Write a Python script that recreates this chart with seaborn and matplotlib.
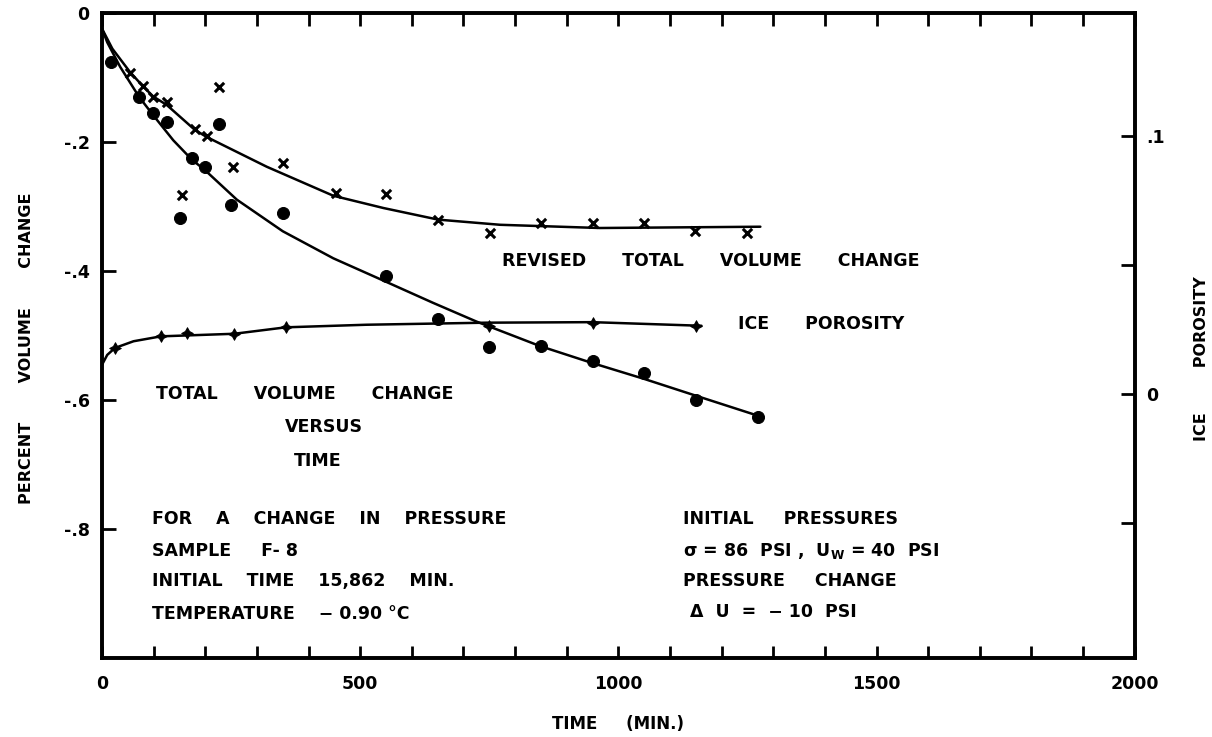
import numpy as np
import pandas as pd
import matplotlib
matplotlib.use("Agg")
import matplotlib.pyplot as plt
import seaborn as sns

# total volume change (dots), percent
total_t = [18, 72, 98, 125, 151, 174, 199, 227, 250, 350, 550, 650, 750, 850, 950, 1050, 1150, 1270]
total_v = [-0.075, -0.130, -0.155, -0.169, -0.318, -0.225, -0.239, -0.172, -0.298, -0.310,
           -0.407, -0.474, -0.518, -0.516, -0.539, -0.558, -0.599, -0.626]

# revised total volume change (crosses), percent
revised_t = [54, 79, 99, 125, 154, 180, 203, 227, 254, 351, 454, 550, 651, 751, 851, 950, 1050, 1149, 1250]
revised_v = [-0.093, -0.113, -0.130, -0.137, -0.282, -0.180, -0.191, -0.115, -0.238, -0.232,
             -0.278, -0.281, -0.320, -0.340, -0.325, -0.325, -0.325, -0.338, -0.341]

# ice porosity (stars), right axis
ice_t = [25, 114, 165, 256, 356, 750, 950, 1150]
ice_p = [0.0180, 0.0225, 0.0238, 0.0235, 0.0260, 0.0264, 0.0278, 0.0266]

# hand drawn curves
total_curve_t = [0, 10, 35, 72, 99, 138, 174, 199, 261, 350, 448, 549, 641, 725, 848, 948, 1050, 1150, 1274]
total_curve_v = [-0.024, -0.045, -0.083, -0.130, -0.158, -0.197, -0.227, -0.243, -0.289, -0.338,
                 -0.380, -0.416, -0.449, -0.478, -0.516, -0.542, -0.567, -0.593, -0.625]
revised_curve_t = [0, 20, 54, 79, 99, 125, 180, 203, 319, 448, 545, 651, 771, 964, 1275]
revised_curve_v = [-0.024, -0.055, -0.091, -0.113, -0.129, -0.142, -0.181, -0.192, -0.238,
                   -0.283, -0.302, -0.320, -0.328, -0.333, -0.331]
ice_curve_t = [0, 10, 25, 61, 114, 256, 356, 512, 745, 950, 1161]
ice_curve_p = [0.0115, 0.0153, 0.0180, 0.0206, 0.0225, 0.0235, 0.0260, 0.0270, 0.0278, 0.0280, 0.0266]

x_ticks = [0, 500, 1000, 1500, 2000]
x_tick_labels = ["0", "500", "1000", "1500", "2000"]
y_ticks = [-0.8, -0.6, -0.4, -0.2, 0]
y_tick_labels = ["-.8", "-.6", "-.4", "-.2", "0"]
r_ticks = [-0.05, 0, 0.05, 0.1]
r_tick_labels = ["", "0", "", ".1"]

sns.set_theme(style="white")
plt.rcParams["font.family"] = ["DejaVu Sans"]
plt.rcParams["font.weight"] = "bold"
k = "black"
for key in ("text.color", "axes.labelcolor", "xtick.color", "ytick.color"):
    plt.rcParams[key] = k

fig = plt.figure(figsize=(12.12, 7.37), dpi=100)
ax = fig.add_axes([0.0842, 0.107, 0.852, 0.875])
ax2 = ax.twinx()

sns.lineplot(x=total_curve_t, y=total_curve_v, ax=ax, color=k, lw=1.8, sort=False, estimator=None)
sns.lineplot(x=revised_curve_t, y=revised_curve_v, ax=ax, color=k, lw=1.8, sort=False, estimator=None)
sns.scatterplot(x=total_t, y=total_v, ax=ax, color=k, s=75, marker="o", edgecolor=k, zorder=3)
sns.scatterplot(x=revised_t, y=revised_v, ax=ax, color=k, s=45, marker="x", linewidth=2.2, zorder=3)

sns.lineplot(x=ice_curve_t, y=ice_curve_p, ax=ax2, color=k, lw=1.8, sort=False, estimator=None)
sns.scatterplot(x=ice_t, y=ice_p, ax=ax2, color=k, s=70, marker=(4, 1, 0), edgecolor=k, zorder=3)

ax.set_xlim(0, 2000)
ax.set_ylim(-1.0, 0)
ax2.set_ylim(-0.10225, 0.14775)

ax.set_xticks(x_ticks)
ax.set_xticklabels(x_tick_labels)
ax.set_xticks(np.arange(0, 2001, 100), minor=True)
ax.set_yticks(y_ticks)
ax.set_yticklabels(y_tick_labels)
ax2.set_yticks(r_ticks)
ax2.set_yticklabels(r_tick_labels)

ax.tick_params(axis="x", which="both", direction="in", top=True, bottom=True,
               length=9, width=2, color=k, labelcolor=k, labelsize=12.5, pad=12)
ax.tick_params(axis="y", which="both", direction="in", left=True, right=False,
               length=10, width=2, color=k, labelcolor=k, labelsize=12.5, pad=9)
ax2.tick_params(axis="y", direction="in", right=True, length=10, width=2, color=k,
                labelcolor=k, labelsize=12.5, pad=8)
for a in (ax, ax2):
    for s in a.spines.values():
        s.set_linewidth(2.6)
        s.set_color(k)
    for lab in a.get_xticklabels() + a.get_yticklabels():
        lab.set_fontweight("bold")

ax.set_xlabel("TIME     (MIN.)", fontsize=12, fontweight="bold", color=k, labelpad=16)
ax.set_ylabel("PERCENT       VOLUME       CHANGE", fontsize=11.5, fontweight="bold", color=k)
ax.yaxis.set_label_coords(-0.066, 0.48)
ax2.set_ylabel("ICE        POROSITY", fontsize=11.5, fontweight="bold", color=k)
ax2.yaxis.set_label_coords(1.057, 0.465)

fs = 12.5
tx = dict(fontsize=fs, fontweight="bold", va="center", ha="left", color=k)
ax.text(775, -0.384, "REVISED      TOTAL      VOLUME      CHANGE", **tx)
ax.text(1231, -0.482, "ICE      POROSITY", **tx)
ax.text(104, -0.591, "TOTAL      VOLUME      CHANGE", **tx)
ax.text(430, -0.642, "VERSUS", fontsize=fs, fontweight="bold", va="center", ha="center", color=k)
ax.text(418, -0.695, "TIME", fontsize=fs, fontweight="bold", va="center", ha="center", color=k)

ax.text(96, -0.785, "FOR    A    CHANGE    IN    PRESSURE", **tx)
ax.text(96, -0.834, "SAMPLE     F- 8", **tx)
ax.text(96, -0.880, "INITIAL    TIME    15,862    MIN.", **tx)
ax.text(96, -0.931, "TEMPERATURE    − 0.90 °C", **tx)

ax.text(1125, -0.785, "INITIAL     PRESSURES", **tx)
ax.text(1125, -0.834, r"σ = 86  PSI ,  U$_\mathbf{W}$ = 40  PSI", **tx)
ax.text(1125, -0.880, "PRESSURE     CHANGE", **tx)
ax.text(1138, -0.928, "Δ  U  =  − 10  PSI", **tx)

fig.savefig("out.png", dpi=100)
